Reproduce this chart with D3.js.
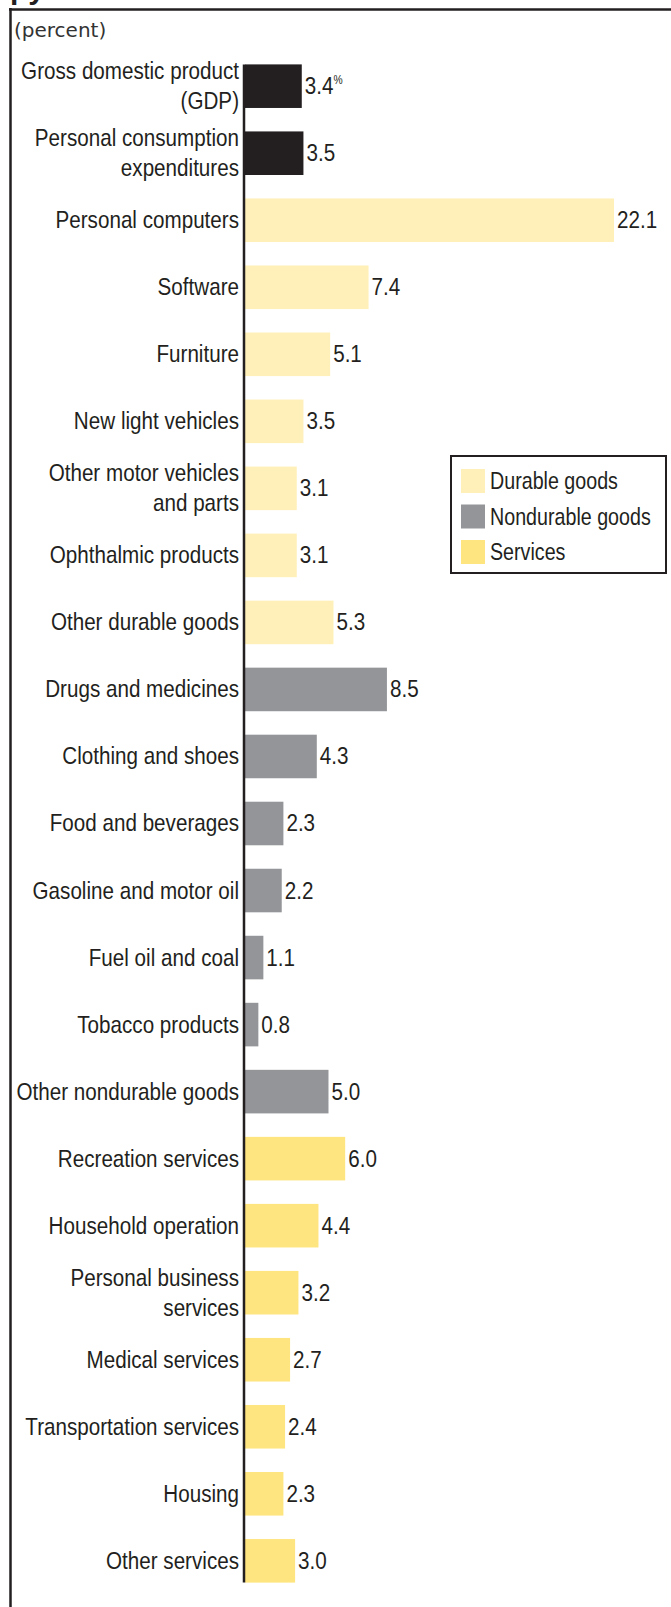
<!DOCTYPE html>
<html>
<head>
<meta charset="utf-8">
<script src="https://cdn.jsdelivr.net/npm/d3@7"></script>
<style>
  body { margin: 0; background: #fff; }
  svg text { font-family: "Liberation Sans", Arial, sans-serif; fill: #231f20; }
</style>
</head>
<body>
<div id="chart"></div>
<script>
var categories = [
  ["Gross domestic product", "(GDP)"],
  ["Personal consumption", "expenditures"],
  ["Personal computers"],
  ["Software"],
  ["Furniture"],
  ["New light vehicles"],
  ["Other motor vehicles", "and parts"],
  ["Ophthalmic products"],
  ["Other durable goods"],
  ["Drugs and medicines"],
  ["Clothing and shoes"],
  ["Food and beverages"],
  ["Gasoline and motor oil"],
  ["Fuel oil and coal"],
  ["Tobacco products"],
  ["Other nondurable goods"],
  ["Recreation services"],
  ["Household operation"],
  ["Personal business", "services"],
  ["Medical services"],
  ["Transportation services"],
  ["Housing"],
  ["Other services"]
];
var values = [3.4, 3.5, 22.1, 7.4, 5.1, 3.5, 3.1, 3.1, 5.3, 8.5, 4.3, 2.3, 2.2, 1.1, 0.8, 5.0, 6.0, 4.4, 3.2, 2.7, 2.4, 2.3, 3.0];
var groups = ["total", "total", "durable", "durable", "durable", "durable", "durable", "durable", "durable",
  "nondurable", "nondurable", "nondurable", "nondurable", "nondurable", "nondurable", "nondurable",
  "services", "services", "services", "services", "services", "services", "services"];
var legendKeys = ["durable", "nondurable", "services"];
var legendLabels = ["Durable goods", "Nondurable goods", "Services"];

var width = 671, height = 1607;
var colors = {total: "#231f20", durable: "#fff0b9", nondurable: "#939598", services: "#ffe57f"};
var squeeze = 0.86;   // fake a condensed face

var svg = d3.select("#chart").append("svg")
    .attr("width", width)
    .attr("height", height);

var data = values.map(function(v, i) { return {lines: categories[i], value: v, group: groups[i], i: i}; });

var x = d3.scaleLinear().domain([0, 22.1]).range([245, 614]);
var y = d3.scaleBand()
    .domain(d3.range(values.length))
    .range([53, 1594])
    .paddingInner(0.35)
    .paddingOuter(0.17);

// cut-off title and frame
svg.append("text")
    .attr("x", 10).attr("y", -1)
    .style("font-weight", "bold")
    .style("font-size", "30px")
    .text("py");
svg.append("line")
    .attr("x1", 9).attr("x2", width).attr("y1", 9.5).attr("y2", 9.5)
    .attr("stroke", "#231f20").attr("stroke-width", 2.5);
svg.append("line")
    .attr("x1", 10.5).attr("x2", 10.5).attr("y1", 8).attr("y2", height)
    .attr("stroke", "#231f20").attr("stroke-width", 2.5);

svg.append("text")
    .attr("x", 14).attr("y", 37)
    .style("font-family", "DejaVu Sans, sans-serif")
    .style("font-size", "20px")
    .style("fill", "#333")
    .text("(percent)");

svg.selectAll(".bar")
    .data(data)
  .enter().append("rect")
    .attr("class", "bar")
    .attr("x", x(0))
    .attr("y", function(d) { return y(d.i); })
    .attr("width", function(d) { return x(d.value) - x(0); })
    .attr("height", y.bandwidth())
    .style("fill", function(d) { return colors[d.group]; });

// axis line
svg.append("line")
    .attr("x1", 244).attr("x2", 244)
    .attr("y1", y(0)).attr("y2", y(values.length - 1) + y.bandwidth())
    .attr("stroke", "#231f20").attr("stroke-width", 2.5);

// category labels
var labels = svg.selectAll(".lab")
    .data(data)
  .enter().append("text")
    .attr("class", "lab")
    .attr("transform", "translate(239,0) scale(" + squeeze + ",1)")
    .style("text-anchor", "end")
    .style("font-size", "24px");
labels.each(function(d) {
  var c = y(d.i) + y.bandwidth() / 2;
  var t = d3.select(this);
  if (d.lines.length === 1) {
    t.append("tspan").attr("x", 0).attr("y", c + 8).text(d.lines[0]);
  } else {
    t.append("tspan").attr("x", 0).attr("y", c - 7).text(d.lines[0]);
    t.append("tspan").attr("x", 0).attr("y", c + 23).text(d.lines[1]);
  }
});

// value labels
var vals = svg.selectAll(".val")
    .data(data)
  .enter().append("text")
    .attr("class", "val")
    .attr("transform", function(d) {
      return "translate(" + (x(d.value) + 3) + ",0) scale(" + squeeze + ",1)";
    })
    .attr("y", function(d) { return y(d.i) + y.bandwidth() / 2 + 8; })
    .style("font-size", "24px")
    .text(function(d) { return d.value.toFixed(1); });
vals.filter(function(d) { return d.i === 0; })
  .append("tspan")
    .attr("dy", -10)
    .style("font-size", "12px")
    .text("%");

// legend
var lg = svg.append("g");
lg.append("rect")
    .attr("x", 451).attr("y", 456).attr("width", 215).attr("height", 117)
    .attr("fill", "#fff").attr("stroke", "#231f20").attr("stroke-width", 2);
legendKeys.forEach(function(k, i) {
  var yy = 469 + i * 35.5;
  lg.append("rect")
      .attr("x", 461).attr("y", yy).attr("width", 24).attr("height", 24)
      .style("fill", colors[k]);
  lg.append("text")
      .attr("transform", "translate(490," + (yy + 20) + ") scale(0.82,1)")
      .style("font-size", "24px")
      .text(legendLabels[i]);
});
</script>
</body>
</html>
